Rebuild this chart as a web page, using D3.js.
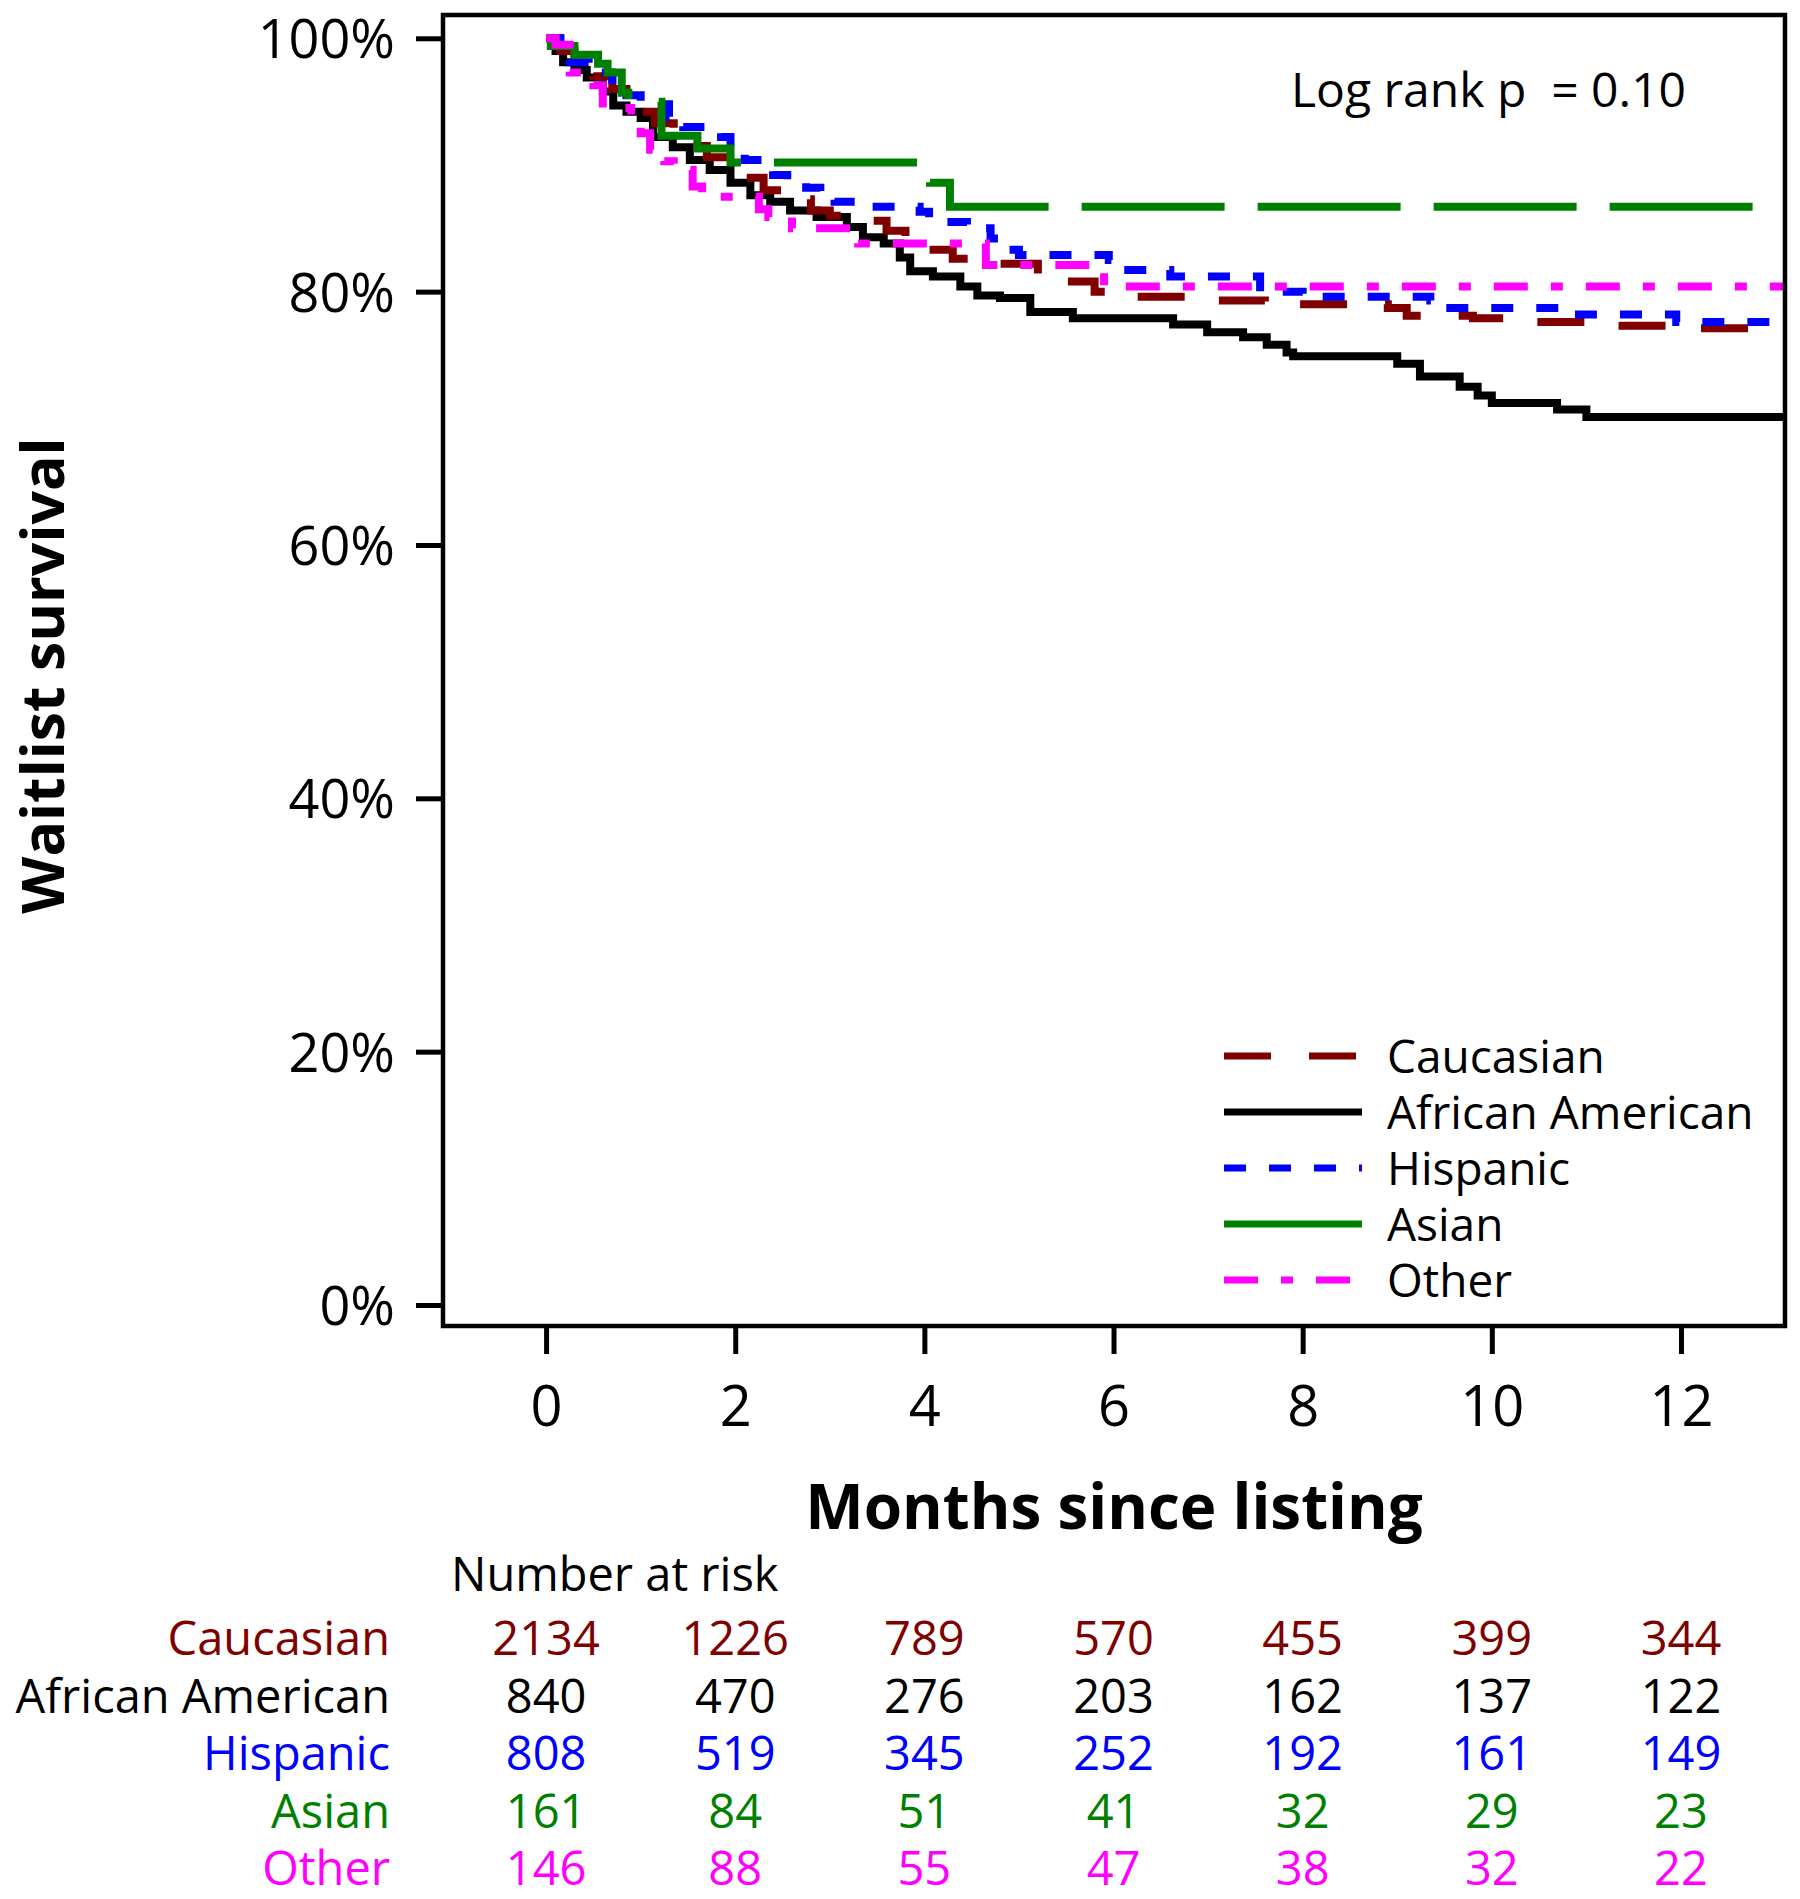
<!DOCTYPE html>
<html>
<head>
<meta charset="utf-8">
<script src="https://cdn.jsdelivr.net/npm/d3@7"></script>
<style>
  body { margin: 0; background: white; }
  text { font-family: "Open Sans", sans-serif; }
</style>
</head>
<body>
<div id="container"></div>
<script>
let w = 1800;
let h = 1899;

let groups = ["Caucasian", "African American", "Hispanic", "Asian", "Other"];
let colors = ["#800000", "#000000", "#0000ff", "#008000", "#ff00ff"];
let dashes = ["47,38", null, "22,23", "143,33", "34,23,12,23"];

// KM steps: months, survival %
let caucasianT = [0, 0.15, 0.3, 0.5, 0.7, 0.85, 1.0, 1.15, 1.35, 1.5, 1.7, 1.95, 2.1, 2.3, 2.5, 2.8, 3.0, 3.3, 3.6, 3.8, 4.0, 4.3, 4.7, 5.2, 5.5, 5.8, 6.2, 6.8, 7.6, 8.9, 9.1, 9.8, 10.4, 11.3, 12.2];
let caucasianS = [100, 99, 98, 97, 96, 95, 94.2, 93.3, 92.5, 91.5, 90.6, 89.8, 89.0, 88.0, 87.3, 86.4, 86.0, 85.6, 84.8, 83.6, 83.3, 82.6, 82.2, 81.4, 80.8, 80.0, 79.6, 79.3, 79.0, 78.7, 78.1, 77.9, 77.6, 77.3, 77.1];

let africanT = [0, 0.1, 0.18, 0.3, 0.43, 0.6, 0.71, 0.85, 1.0, 1.13, 1.34, 1.52, 1.73, 1.95, 2.16, 2.37, 2.58, 2.86, 3.18, 3.35, 3.57, 3.74, 3.85, 4.09, 4.38, 4.56, 4.8, 5.12, 5.57, 6.63, 6.99, 7.37, 7.62, 7.83, 7.9, 9.0, 9.24, 9.66, 9.85, 10.0, 10.69, 11.0];
let africanS = [100, 99, 98.1, 97.5, 96.9, 95.8, 94.7, 94.2, 93.7, 92.2, 91.4, 90.4, 89.6, 88.6, 87.6, 87.1, 86.4, 85.9, 85.1, 84.3, 83.8, 82.7, 81.6, 81.2, 80.4, 79.7, 79.5, 78.4, 77.9, 77.4, 76.8, 76.4, 75.8, 75.2, 74.9, 74.3, 73.3, 72.5, 71.8, 71.2, 70.7, 70.1];

let hispanicT = [0, 0.15, 0.25, 0.45, 0.7, 0.85, 1.0, 1.3, 1.45, 1.85, 1.95, 2.1, 2.4, 2.55, 2.75, 2.9, 3.05, 3.45, 3.95, 4.05, 4.45, 4.7, 4.8, 5.0, 5.95, 6.0, 6.6, 7.55, 8.0, 9.35, 9.45, 10.75, 11.95];
let hispanicS = [100, 99, 98.1, 97.3, 96.2, 95.5, 94.8, 93.8, 93.0, 92.2, 91.2, 90.4, 89.2, 88.6, 88.2, 87.5, 87.1, 86.7, 86.3, 85.5, 85.0, 84.2, 83.3, 82.9, 82.5, 81.7, 81.2, 80.0, 79.6, 79.3, 78.7, 78.2, 77.6];

let asianT = [0, 0.05, 0.3, 0.55, 0.65, 0.8, 0.87, 1.22, 1.6, 1.95, 4.06, 4.27];
let asianS = [100, 99.4, 98.7, 98.0, 97.3, 95.7, 95.0, 92.3, 91.3, 90.2, 88.6, 86.7];

let otherT = [0, 0.1, 0.25, 0.5, 0.6, 0.9, 1.0, 1.1, 1.25, 1.35, 1.55, 1.65, 2.25, 2.35, 2.6, 3.3, 4.65, 5.9];
let otherS = [100, 99.5, 97.3, 96.3, 94.5, 94.3, 92.5, 91.2, 90.3, 89.6, 88.3, 87.5, 86.5, 85.9, 85.0, 83.8, 82.1, 80.4];

let lastT = 13.1;

// number at risk table
let riskTimes = [0, 2, 4, 6, 8, 10, 12];
let riskCaucasian = [2134, 1226, 789, 570, 455, 399, 344];
let riskAfrican = [840, 470, 276, 203, 162, 137, 122];
let riskHispanic = [808, 519, 345, 252, 192, 161, 149];
let riskAsian = [161, 84, 51, 41, 32, 29, 23];
let riskOther = [146, 88, 55, 47, 38, 32, 22];

let yTicks = [0, 20, 40, 60, 80, 100];
let xTicks = [0, 2, 4, 6, 8, 10, 12];

let curvesT = [caucasianT, africanT, hispanicT, asianT, otherT];
let curvesS = [caucasianS, africanS, hispanicS, asianS, otherS];
let riskRows = [riskCaucasian, riskAfrican, riskHispanic, riskAsian, riskOther];

let plotLeft = 443, plotRight = 1785, plotTop = 15, plotBottom = 1326;

let x = d3.scaleLinear().domain([-1.09, 13.1]).range([plotLeft, plotRight]);
let y = d3.scaleLinear().domain([0, 100]).range([1305, 38.3]);

let viz = d3.select("#container")
  .append("svg")
    .attr("width", w)
    .attr("height", h)
    .style("background-color", "white")
;

viz.append("clipPath")
    .attr("id", "plotClip")
  .append("rect")
    .attr("x", plotLeft)
    .attr("y", plotTop)
    .attr("width", plotRight - plotLeft)
    .attr("height", plotBottom - plotTop)
;

// y axis
let yAxis = viz.append("g")
    .attr("transform", "translate(" + plotLeft + ",0)")
    .call(d3.axisLeft(y).tickValues(yTicks).tickFormat(d => d + "%").tickSize(27).tickPadding(21))
;
yAxis.select(".domain").remove();
yAxis.selectAll("line").style("stroke", "black").style("stroke-width", 5);
yAxis.selectAll("text")
    .attr("dy", "0.36em")
    .style("font-size", "54px")
    .style("font-family", "Open Sans")
    .style("fill", "black")
;

// x axis
let xAxis = viz.append("g")
    .attr("transform", "translate(0," + plotBottom + ")")
    .call(d3.axisBottom(x).tickValues(xTicks).tickSize(28))
;
xAxis.select(".domain").remove();
xAxis.selectAll("line").style("stroke", "black").style("stroke-width", 5);
xAxis.selectAll("text")
    .attr("dy", null)
    .attr("y", 100)
    .style("font-size", "56px")
    .style("font-family", "Open Sans")
    .style("fill", "black")
;

// curves
let line = d3.line()
  .x(d => x(d[0]))
  .y(d => y(d[1]))
  .curve(d3.curveStepAfter)
;

let drawOrder = [1, 0, 2, 3, 4];
drawOrder.forEach(function(i){
  let pts = d3.zip(curvesT[i], curvesS[i]);
  pts.push([lastT, curvesS[i][curvesS[i].length - 1]]);
  viz.append("path")
      .attr("d", line(pts))
      .attr("clip-path", "url(#plotClip)")
      .attr("fill", "none")
      .style("stroke", colors[i])
      .style("stroke-width", 8)
      .style("stroke-dasharray", dashes[i])
  ;
});

// frame
viz.append("rect")
    .attr("x", plotLeft)
    .attr("y", plotTop)
    .attr("width", plotRight - plotLeft)
    .attr("height", plotBottom - plotTop)
    .attr("fill", "none")
    .style("stroke", "black")
    .style("stroke-width", 4.5)
;

viz.append("text")
    .text("Log rank p\u00a0\u00a0= 0.10")
    .attr("x", 1291)
    .attr("y", 107)
    .style("font-size", "48px")
    .style("fill", "black")
;

// legend
let legend = viz.selectAll(".legendItem").data(groups).enter()
  .append("g")
    .attr("class", "legendItem")
    .attr("transform", (d, i) => "translate(0," + (1056 + i * 56) + ")")
;
legend.append("line")
    .attr("x1", 1224)
    .attr("x2", 1362)
    .attr("y1", 0)
    .attr("y2", 0)
    .style("stroke", (d, i) => colors[i])
    .style("stroke-width", 7)
    .style("stroke-dasharray", (d, i) => dashes[i])
;
legend.append("text")
    .text(d => d)
    .attr("x", 1387)
    .attr("y", 17)
    .style("font-size", "46px")
    .style("fill", "black")
;

// axis titles
viz.append("text")
    .text("Months since listing")
    .attr("x", (plotLeft + plotRight) / 2)
    .attr("y", 1529)
    .attr("text-anchor", "middle")
    .style("font-size", "62px")
    .style("font-weight", "bold")
    .style("fill", "black")
;

viz.append("text")
    .text("Waitlist survival")
    .attr("transform", "translate(64," + ((plotTop + plotBottom) / 2 + 5) + ") rotate(-90)")
    .attr("text-anchor", "middle")
    .style("font-size", "59px")
    .style("font-weight", "bold")
    .style("fill", "black")
;

// number at risk
viz.append("text")
    .text("Number at risk")
    .attr("x", 451)
    .attr("y", 1591)
    .style("font-size", "47px")
    .style("fill", "black")
;

let rows = viz.selectAll(".riskRow").data(riskRows).enter()
  .append("g")
    .attr("class", "riskRow")
    .attr("transform", (d, i) => "translate(0," + (1655 + i * 57.5) + ")")
    .style("fill", (d, i) => colors[i])
;
rows.append("text")
    .text((d, i) => groups[i])
    .attr("x", 390)
    .attr("text-anchor", "end")
    .style("font-size", "47px")
;
rows.selectAll(".riskNum").data(d => d).enter()
  .append("text")
    .attr("class", "riskNum")
    .text(d => d)
    .attr("x", (d, j) => x(riskTimes[j]))
    .attr("text-anchor", "middle")
    .style("font-size", "47px")
;
</script>
</body>
</html>
